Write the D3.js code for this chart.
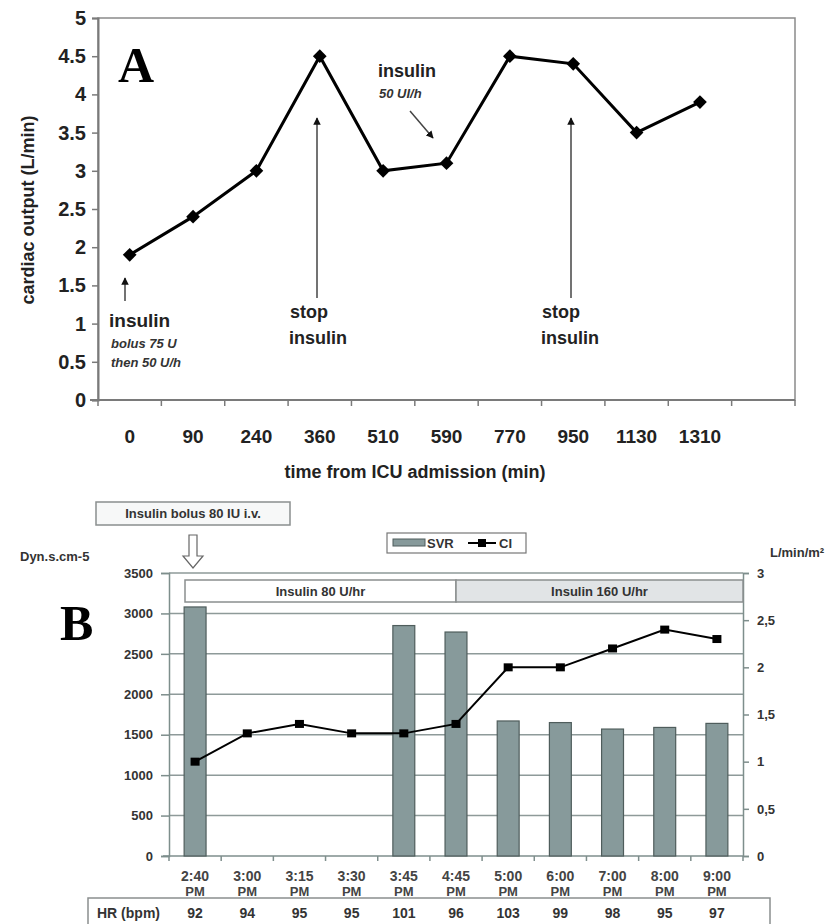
<!DOCTYPE html>
<html>
<head>
<meta charset="utf-8">
<script src="https://cdn.jsdelivr.net/npm/d3@7"></script>
<style>
  body { margin: 0; background: #fff; }
  svg { display: block; font-family: "Liberation Sans", Arial, sans-serif; }
</style>
</head>
<body>
<script>
/* DATA */
const timesA = ["0", "90", "240", "360", "510", "590", "770", "950", "1130", "1310"];
const cardiacOutput = [1.9, 2.4, 3.0, 4.5, 3.0, 3.1, 4.5, 4.4, 3.5, 3.9];
const ticksA = [0, 0.5, 1, 1.5, 2, 2.5, 3, 3.5, 4, 4.5, 5];

const timesB = ["2:40", "3:00", "3:15", "3:30", "3:45", "4:45", "5:00", "6:00", "7:00", "8:00", "9:00"];
const svr = [3080, 0, 0, 0, 2850, 2770, 1670, 1650, 1570, 1590, 1640];
const ci = [1.0, 1.3, 1.4, 1.3, 1.3, 1.4, 2.0, 2.0, 2.2, 2.4, 2.3];
const hr = [92, 94, 95, 95, 101, 96, 103, 99, 98, 95, 97];
const ticksSVR = [0, 500, 1000, 1500, 2000, 2500, 3000, 3500];
const ticksCI = [0, 0.5, 1, 1.5, 2, 2.5, 3];

const W = 839, H = 924;
const svg = d3.select("body").append("svg").attr("width", W).attr("height", H);

/* ---------- PANEL A ---------- */
const A = { left: 98, right: 795, top: 18, bottom: 400 };
// one empty slot at the end like the original
const xA = d3.scaleBand().domain(timesA.concat(["_"])).range([A.left, A.right]);
const yA = d3.scaleLinear().domain([0, 5]).range([A.bottom, A.top]);
const gA = svg.append("g");

// frame
gA.append("rect").attr("x", A.left).attr("y", A.top)
  .attr("width", A.right - A.left).attr("height", A.bottom - A.top)
  .attr("fill", "none").attr("stroke", "#8a8a8a").attr("stroke-width", 1.5);

// y axis
const yAxA = gA.append("g").attr("transform", `translate(${A.left},0)`)
  .call(d3.axisLeft(yA).tickValues(ticksA).tickSize(6).tickPadding(6)
    .tickFormat(d => String(d)));
yAxA.select(".domain").attr("stroke", "#7a7a7a").attr("stroke-width", 2);
yAxA.selectAll(".tick line").attr("stroke", "#7a7a7a").attr("stroke-width", 1.5);
yAxA.selectAll("text").attr("font-size", 20).attr("font-weight", "bold").attr("fill", "#222");

// x axis: ticks between categories, labels at centres
const xAxA = gA.append("g").attr("transform", `translate(0,${A.bottom})`);
xAxA.append("line").attr("x1", A.left - 8).attr("x2", A.right)
  .attr("stroke", "#7a7a7a").attr("stroke-width", 2);
xAxA.selectAll("line.t").data(xA.domain().concat(["end"])).join("line")
  .attr("class", "t")
  .attr("x1", (d, i) => A.left + i * xA.step()).attr("x2", (d, i) => A.left + i * xA.step())
  .attr("y1", 0).attr("y2", 6).attr("stroke", "#7a7a7a").attr("stroke-width", 1.5);
xAxA.selectAll("text").data(timesA).join("text")
  .attr("x", d => xA(d) + xA.bandwidth() / 2).attr("y", 43)
  .attr("text-anchor", "middle").attr("font-size", 19).attr("font-weight", "bold")
  .attr("fill", "#222").text(d => d);

gA.append("text").attr("x", 415).attr("y", 478).attr("text-anchor", "middle")
  .attr("font-size", 18).attr("font-weight", "bold").attr("fill", "#222")
  .text("time from ICU admission (min)");
gA.append("text").attr("transform", "translate(34,210) rotate(-90)")
  .attr("text-anchor", "middle").attr("font-size", 18).attr("font-weight", "bold")
  .attr("fill", "#222").text("cardiac output (L/min)");

gA.append("text").attr("x", 118).attr("y", 82)
  .attr("font-family", "Liberation Serif, Times New Roman, serif")
  .attr("font-size", 50).attr("font-weight", "bold").text("A");

// line + diamonds
const ptsA = timesA.map((t, i) => [xA(t) + xA.bandwidth() / 2, yA(cardiacOutput[i])]);
gA.append("path").attr("d", d3.line()(ptsA)).attr("fill", "none")
  .attr("stroke", "#000").attr("stroke-width", 3);
gA.selectAll("path.dia").data(ptsA).join("path").attr("class", "dia")
  .attr("d", d3.symbol(d3.symbolDiamond2, 120))
  .attr("transform", d => `translate(${d[0]},${d[1]})`)
  .attr("fill", "#000");

// annotations
const defs = svg.append("defs");
defs.append("marker").attr("id", "ah").attr("viewBox", "0 0 10 10")
  .attr("refX", 9).attr("refY", 5).attr("markerWidth", 5).attr("markerHeight", 5)
  .attr("orient", "auto").append("path").attr("d", "M0,0L10,5L0,10z").attr("fill", "#111");

function arrow(g, x1, y1, x2, y2, col) {
  g.append("line").attr("x1", x1).attr("y1", y1).attr("x2", x2).attr("y2", y2)
    .attr("stroke", col || "#444").attr("stroke-width", 1.5).attr("marker-end", "url(#ah)");
}
function label(g, x, y, txt, size, italic) {
  g.append("text").attr("x", x).attr("y", y).attr("font-size", size)
    .attr("font-weight", "bold").attr("font-style", italic ? "italic" : "normal")
    .attr("fill", italic ? "#333" : "#222").text(txt);
}
arrow(gA, 125, 301, 125, 278);
label(gA, 109, 327, "insulin", 19);
label(gA, 111, 348, "bolus 75 U", 13, true);
label(gA, 111, 367, "then 50 U/h", 13, true);

arrow(gA, 317, 298, 317, 118);
label(gA, 290, 318, "stop", 18);
label(gA, 289, 344, "insulin", 18);

arrow(gA, 571, 298, 571, 118);
label(gA, 542, 318, "stop", 18);
label(gA, 541, 344, "insulin", 18);

label(gA, 378, 77, "insulin", 18);
label(gA, 379, 98, "50 UI/h", 13, true);
arrow(gA, 410, 111, 433, 138);

/* ---------- PANEL B ---------- */
const B = { left: 169, right: 743, top: 573, bottom: 856 };
const xB = d3.scaleBand().domain(timesB).range([B.left, B.right]).paddingInner(0.58).paddingOuter(0.29);
const xBc = d3.scaleBand().domain(timesB).range([B.left, B.right]);
const yB = d3.scaleLinear().domain([0, 3500]).range([B.bottom, B.top]);
const yC = d3.scaleLinear().domain([0, 3]).range([B.bottom, B.top]);
const gB = svg.append("g");
const axisCol = "#7e8e8c";

// grid
gB.selectAll("line.grid").data(ticksSVR.slice(1)).join("line").attr("class", "grid")
  .attr("x1", B.left).attr("x2", B.right).attr("y1", d => yB(d)).attr("y2", d => yB(d))
  .attr("stroke", "#8e9a99").attr("stroke-width", 1.5);

// left axis
const yAxB = gB.append("g").attr("transform", `translate(${B.left},0)`)
  .call(d3.axisLeft(yB).tickValues(ticksSVR).tickSize(8).tickPadding(8).tickFormat(d => String(d)));
yAxB.select(".domain").attr("stroke", axisCol).attr("stroke-width", 1.5);
yAxB.selectAll(".tick line").attr("stroke", axisCol).attr("stroke-width", 1.5);
yAxB.selectAll("text").attr("font-size", 13).attr("font-weight", "bold").attr("fill", "#333");

// right axis
const yAxC = gB.append("g").attr("transform", `translate(${B.right},0)`)
  .call(d3.axisRight(yC).tickValues(ticksCI).tickSize(6).tickPadding(8)
    .tickFormat(d => String(d).replace(".", ",")));
yAxC.select(".domain").attr("stroke", axisCol).attr("stroke-width", 1.5);
yAxC.selectAll(".tick line").attr("stroke", axisCol).attr("stroke-width", 1.5);
yAxC.selectAll("text").attr("font-size", 13).attr("font-weight", "bold").attr("fill", "#333");

// bottom axis
const xAxB = gB.append("g").attr("transform", `translate(0,${B.bottom})`);
xAxB.append("line").attr("x1", B.left - 6).attr("x2", B.right)
  .attr("stroke", axisCol).attr("stroke-width", 1.5);
xAxB.selectAll("line.t").data(d3.range(timesB.length + 1)).join("line").attr("class", "t")
  .attr("x1", i => B.left + i * xBc.step()).attr("x2", i => B.left + i * xBc.step())
  .attr("y1", 0).attr("y2", 5).attr("stroke", axisCol).attr("stroke-width", 1.5);
const xl = xAxB.selectAll("g.lab").data(timesB).join("g").attr("class", "lab")
  .attr("transform", d => `translate(${xBc(d) + xBc.bandwidth() / 2},0)`);
xl.append("text").attr("y", 25).attr("text-anchor", "middle").attr("font-size", 14)
  .attr("font-weight", "bold").attr("fill", "#444").text(d => d);
xl.append("text").attr("y", 40).attr("text-anchor", "middle").attr("font-size", 13)
  .attr("font-weight", "bold").attr("fill", "#444").text("PM");

// insulin bands
gB.append("rect").attr("x", 185).attr("y", 580).attr("width", 456 - 185).attr("height", 22)
  .attr("fill", "#fff").attr("stroke", "#8a8f8f").attr("stroke-width", 1.5);
gB.append("rect").attr("x", 456).attr("y", 580).attr("width", B.right - 456).attr("height", 22)
  .attr("fill", "#e1e4e6").attr("stroke", "#8a8f8f").attr("stroke-width", 1.5);
gB.append("text").attr("x", (185 + 456) / 2).attr("y", 596).attr("text-anchor", "middle")
  .attr("font-size", 13).attr("font-weight", "bold").attr("fill", "#333").text("Insulin 80 U/hr");
gB.append("text").attr("x", (456 + B.right) / 2).attr("y", 596).attr("text-anchor", "middle")
  .attr("font-size", 13).attr("font-weight", "bold").attr("fill", "#333").text("Insulin 160 U/hr");

// bars
gB.selectAll("rect.bar").data(timesB.filter((t, i) => svr[i] > 0)).join("rect").attr("class", "bar")
  .attr("x", d => xB(d)).attr("width", xB.bandwidth())
  .attr("y", d => yB(svr[timesB.indexOf(d)]))
  .attr("height", d => B.bottom - yB(svr[timesB.indexOf(d)]))
  .attr("fill", "#879a9b").attr("stroke", "#4f5d5c").attr("stroke-width", 1.2);

// CI line
const ptsB = timesB.map((t, i) => [xBc(t) + xBc.bandwidth() / 2, yC(ci[i])]);
gB.append("path").attr("d", d3.line()(ptsB)).attr("fill", "none")
  .attr("stroke", "#000").attr("stroke-width", 2);
gB.selectAll("rect.pt").data(ptsB).join("rect").attr("class", "pt")
  .attr("x", d => d[0] - 4.5).attr("y", d => d[1] - 4).attr("width", 9).attr("height", 8)
  .attr("fill", "#000");

// labels
gB.append("text").attr("x", 20).attr("y", 561).attr("font-size", 13).attr("font-weight", "bold")
  .attr("fill", "#333").text("Dyn.s.cm-5");
gB.append("text").attr("x", 770).attr("y", 557).attr("font-size", 13).attr("font-weight", "bold")
  .attr("fill", "#333").text("L/min/m²");
gB.append("text").attr("x", 60).attr("y", 640)
  .attr("font-family", "Liberation Serif, Times New Roman, serif")
  .attr("font-size", 50).attr("font-weight", "bold").text("B");

// bolus box + hollow arrow
gB.append("rect").attr("x", 96).attr("y", 502).attr("width", 194).attr("height", 23)
  .attr("fill", "#f7f8f8").attr("stroke", "#8a8f8f").attr("stroke-width", 1.5);
gB.append("text").attr("x", 193).attr("y", 518).attr("text-anchor", "middle")
  .attr("font-size", 13).attr("font-weight", "bold").attr("fill", "#333")
  .text("Insulin bolus 80 IU i.v.");
gB.append("path").attr("d", "M189,535 L197,535 L197,556 L203,556 L193,568 L183,556 L189,556 Z")
  .attr("fill", "#fff").attr("stroke", "#666").attr("stroke-width", 1.2);

// legend
const lg = gB.append("g");
lg.append("rect").attr("x", 387).attr("y", 533).attr("width", 139).attr("height", 20)
  .attr("fill", "#fff").attr("stroke", "#777").attr("stroke-width", 1.2);
lg.append("rect").attr("x", 393).attr("y", 539).attr("width", 32).attr("height", 7)
  .attr("fill", "#879a9b").attr("stroke", "#4f5d5c");
lg.append("text").attr("x", 427).attr("y", 548).attr("font-size", 13).attr("font-weight", "bold")
  .attr("fill", "#333").text("SVR");
lg.append("line").attr("x1", 468).attr("x2", 496).attr("y1", 543).attr("y2", 543)
  .attr("stroke", "#000").attr("stroke-width", 2);
lg.append("rect").attr("x", 478).attr("y", 539).attr("width", 8).attr("height", 8).attr("fill", "#000");
lg.append("text").attr("x", 499).attr("y", 548).attr("font-size", 13).attr("font-weight", "bold")
  .attr("fill", "#333").text("CI");

// HR table
const tb = gB.append("g");
tb.append("rect").attr("x", 88).attr("y", 898).attr("width", 770 - 88).attr("height", 40)
  .attr("fill", "#fff").attr("stroke", "#8a8f8f").attr("stroke-width", 1.5);
tb.append("text").attr("x", 97).attr("y", 918).attr("font-size", 14).attr("font-weight", "bold")
  .attr("fill", "#333").text("HR (bpm)");
tb.selectAll("text.hr").data(timesB).join("text").attr("class", "hr")
  .attr("x", d => xBc(d) + xBc.bandwidth() / 2).attr("y", 918).attr("text-anchor", "middle")
  .attr("font-size", 14).attr("font-weight", "bold").attr("fill", "#333")
  .text((d, i) => hr[i]);
</script>
</body>
</html>
